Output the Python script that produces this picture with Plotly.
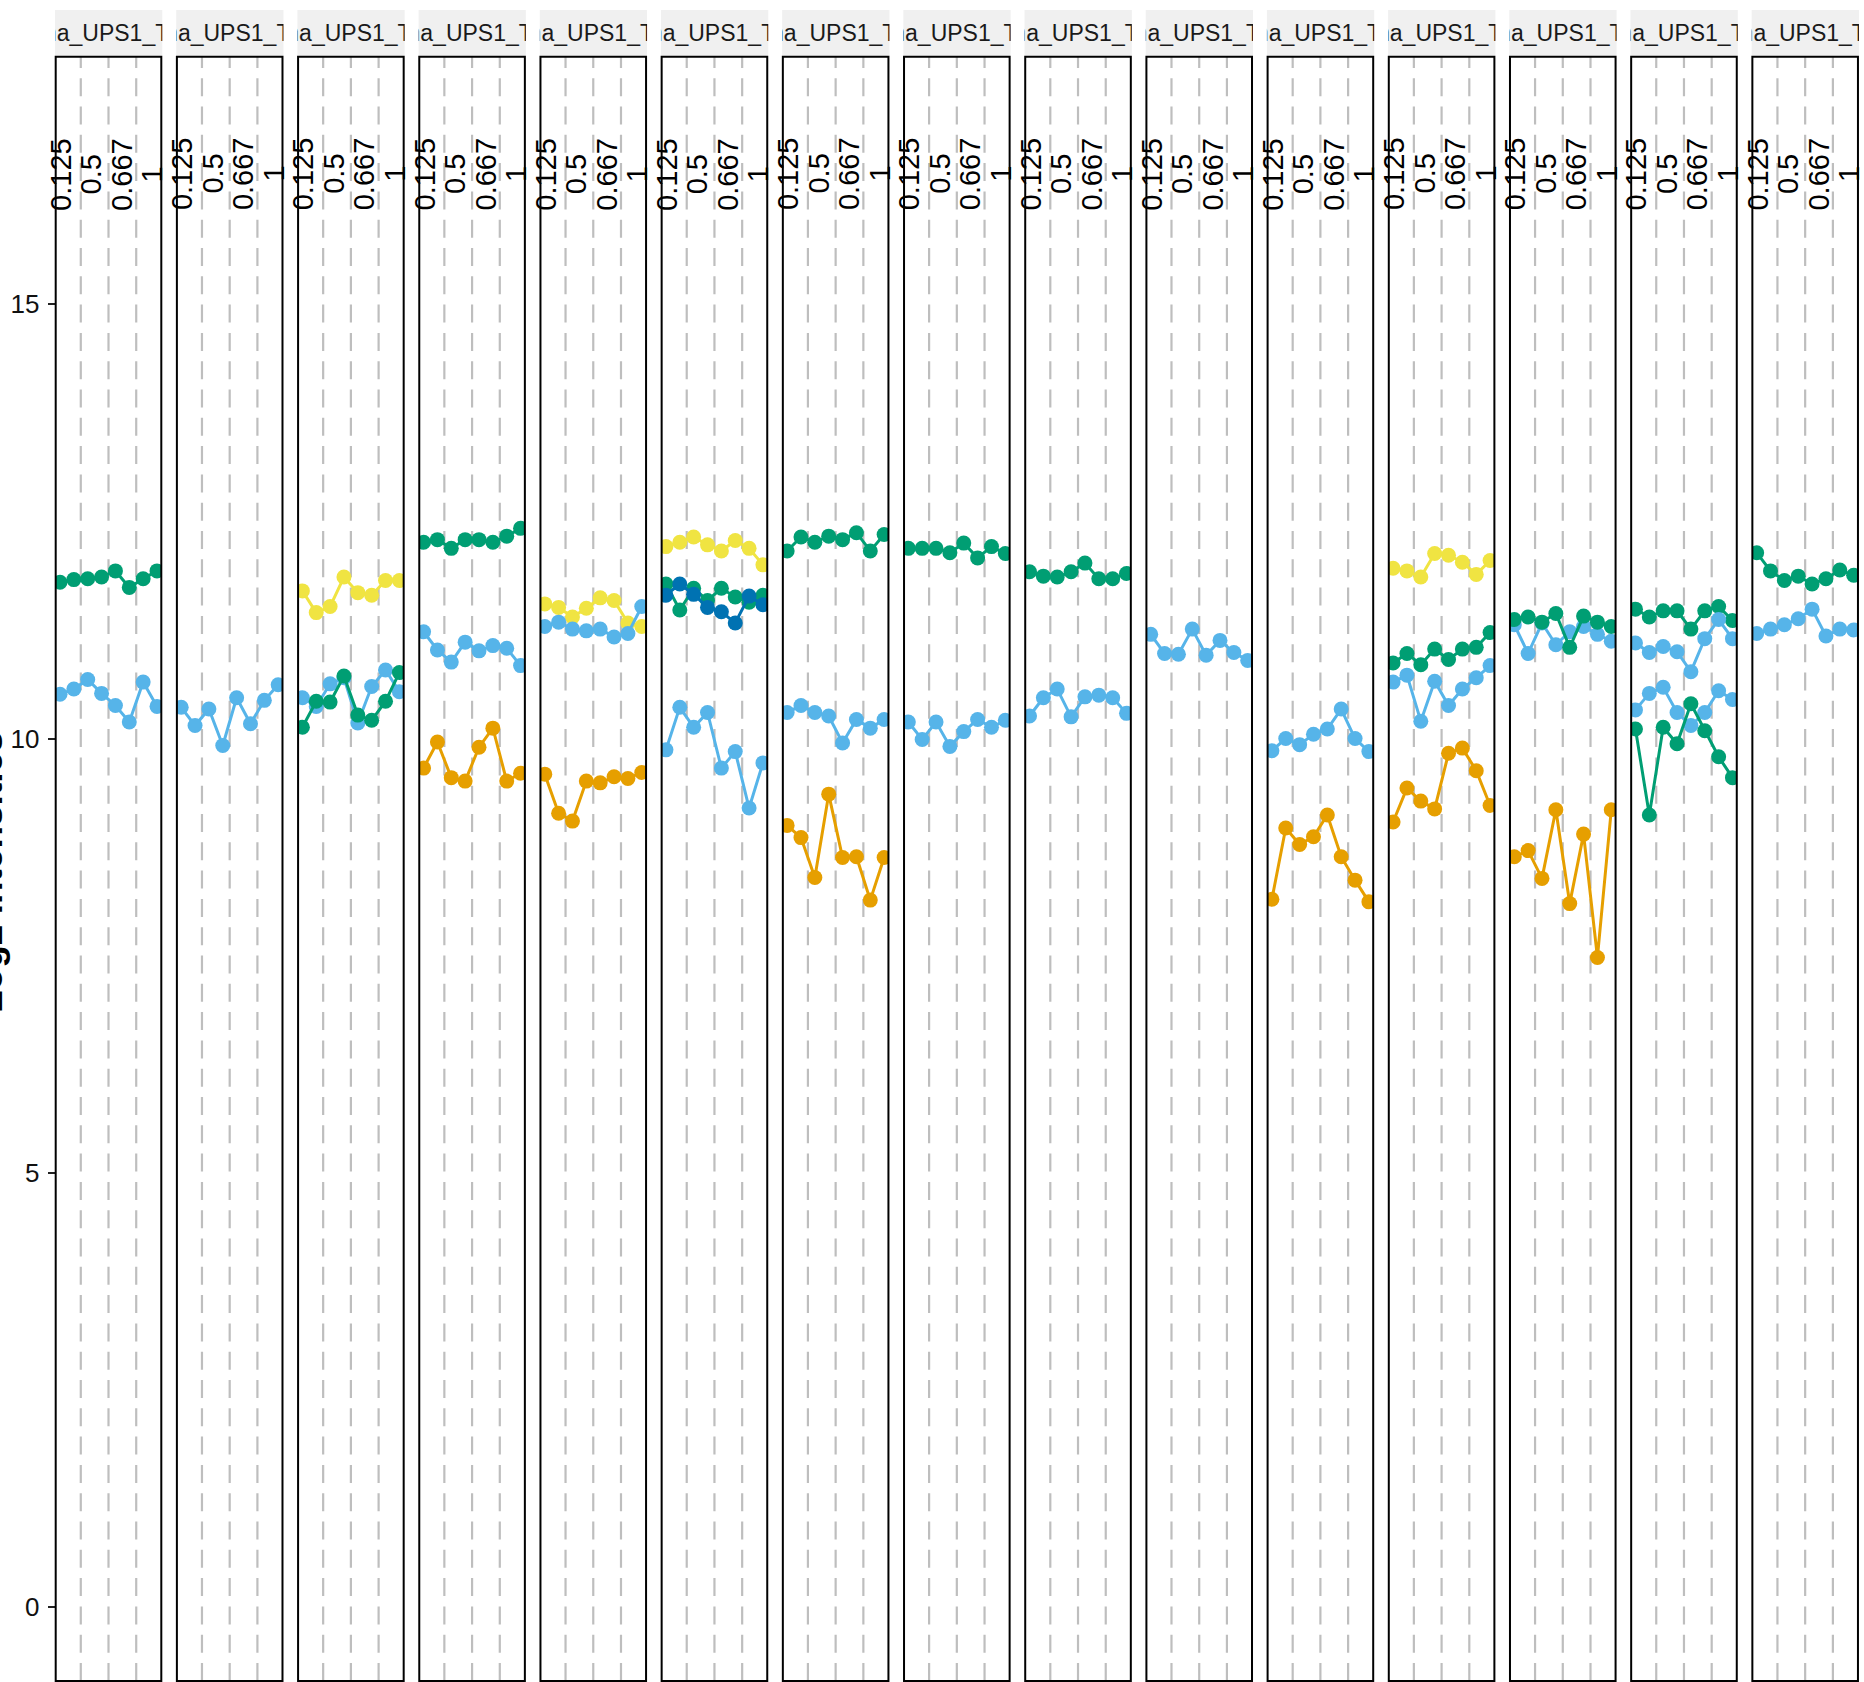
import plotly.graph_objects as go

# ---------------- data ----------------
samples = [1, 2, 3, 4, 5, 6, 7, 8]
condition_labels = ["0.125", "0.5", "0.667", "1"]
condition_label_pos = [1.07, 3.27, 5.47, 7.67]
condition_bounds = [2.5, 4.5, 6.5]
y_ticks = [0, 5, 10, 15]
strip_label = "Sigma_UPS1_Tech1"
y_title = "Log2 intensities"

GREEN = "#009E73"
SKY = "#56B4E9"
ORANGE = "#E69F00"
YELLOW = "#F0E442"
BLUE = "#0072B2"

p01_green = [11.80, 11.83, 11.84, 11.86, 11.93, 11.74, 11.84, 11.93]
p01_sky = [10.51, 10.57, 10.68, 10.52, 10.38, 10.19, 10.65, 10.37]
p02_sky = [10.36, 10.15, 10.34, 9.92, 10.47, 10.17, 10.44, 10.62]
p03_yellow = [11.70, 11.45, 11.52, 11.86, 11.68, 11.65, 11.82, 11.82]
p03_sky = [10.47, 10.37, 10.63, 10.70, 10.18, 10.60, 10.79, 10.54]
p03_green = [10.13, 10.43, 10.42, 10.72, 10.27, 10.21, 10.43, 10.76]
p04_green = [12.26, 12.29, 12.19, 12.29, 12.29, 12.26, 12.33, 12.42]
p04_sky = [11.23, 11.02, 10.88, 11.11, 11.01, 11.07, 11.04, 10.84]
p04_orange = [9.66, 9.96, 9.55, 9.51, 9.90, 10.12, 9.51, 9.60]
p05_yellow = [11.55, 11.51, 11.40, 11.50, 11.62, 11.59, 11.33, 11.29]
p05_sky = [11.29, 11.34, 11.26, 11.24, 11.26, 11.17, 11.21, 11.52]
p05_orange = [9.59, 9.14, 9.05, 9.51, 9.49, 9.56, 9.54, 9.61]
p06_yellow = [12.21, 12.26, 12.32, 12.23, 12.16, 12.28, 12.19, 12.00]
p06_green = [11.78, 11.48, 11.73, 11.59, 11.73, 11.63, 11.57, 11.65]
p06_blue = [11.65, 11.78, 11.66, 11.51, 11.46, 11.33, 11.64, 11.54]
p06_sky = [9.87, 10.36, 10.13, 10.30, 9.66, 9.85, 9.20, 9.72]
p07_green = [12.16, 12.32, 12.26, 12.33, 12.29, 12.37, 12.16, 12.35]
p07_sky = [10.30, 10.38, 10.30, 10.26, 9.95, 10.22, 10.12, 10.22]
p07_orange = [9.00, 8.86, 8.40, 9.36, 8.63, 8.64, 8.14, 8.63]
p08_green = [12.19, 12.19, 12.19, 12.14, 12.25, 12.08, 12.21, 12.13]
p08_sky = [10.19, 9.99, 10.19, 9.91, 10.08, 10.22, 10.13, 10.21]
p09_green = [11.92, 11.87, 11.86, 11.92, 12.02, 11.84, 11.84, 11.90]
p09_sky = [10.26, 10.47, 10.57, 10.25, 10.48, 10.50, 10.47, 10.29]
p10_sky = [11.20, 10.98, 10.97, 11.26, 10.96, 11.13, 10.99, 10.90]
p11_sky = [9.86, 10.00, 9.93, 10.05, 10.11, 10.34, 10.00, 9.85]
p11_orange = [8.15, 8.97, 8.78, 8.87, 9.12, 8.64, 8.37, 8.12]
p12_yellow = [11.96, 11.93, 11.86, 12.13, 12.11, 12.03, 11.89, 12.05]
p12_green = [10.87, 10.98, 10.85, 11.03, 10.91, 11.03, 11.05, 11.22]
p12_sky = [10.65, 10.73, 10.20, 10.66, 10.38, 10.57, 10.70, 10.84]
p12_orange = [9.04, 9.43, 9.28, 9.19, 9.83, 9.89, 9.63, 9.23]
p13_sky = [11.31, 10.98, 11.33, 11.08, 11.23, 11.29, 11.20, 11.12]
p13_green = [11.37, 11.40, 11.34, 11.44, 11.05, 11.41, 11.34, 11.29]
p13_orange = [8.64, 8.71, 8.39, 9.18, 8.10, 8.90, 7.48, 9.18]
p14_green_a = [11.49, 11.40, 11.47, 11.47, 11.26, 11.47, 11.52, 11.36]
p14_sky_a = [11.10, 10.99, 11.06, 11.00, 10.77, 11.15, 11.37, 11.15]
p14_sky_b = [10.33, 10.52, 10.59, 10.30, 10.15, 10.30, 10.55, 10.45]
p14_green_b = [10.11, 9.12, 10.13, 9.94, 10.40, 10.09, 9.79, 9.55]
p15_green = [12.14, 11.93, 11.82, 11.87, 11.78, 11.84, 11.94, 11.88]
p15_sky = [11.21, 11.26, 11.31, 11.38, 11.49, 11.18, 11.26, 11.25]

panels = [
    [(p01_green, GREEN), (p01_sky, SKY)],
    [(p02_sky, SKY)],
    [(p03_yellow, YELLOW), (p03_sky, SKY), (p03_green, GREEN)],
    [(p04_green, GREEN), (p04_sky, SKY), (p04_orange, ORANGE)],
    [(p05_yellow, YELLOW), (p05_sky, SKY), (p05_orange, ORANGE)],
    [(p06_yellow, YELLOW), (p06_green, GREEN), (p06_blue, BLUE), (p06_sky, SKY)],
    [(p07_green, GREEN), (p07_sky, SKY), (p07_orange, ORANGE)],
    [(p08_green, GREEN), (p08_sky, SKY)],
    [(p09_green, GREEN), (p09_sky, SKY)],
    [(p10_sky, SKY)],
    [(p11_sky, SKY), (p11_orange, ORANGE)],
    [(p12_yellow, YELLOW), (p12_green, GREEN), (p12_sky, SKY), (p12_orange, ORANGE)],
    [(p13_sky, SKY), (p13_green, GREEN), (p13_orange, ORANGE)],
    [(p14_green_a, GREEN), (p14_sky_a, SKY), (p14_sky_b, SKY), (p14_green_b, GREEN)],
    [(p15_green, GREEN), (p15_sky, SKY)],
]

# ---------------- layout geometry (pixels) ----------------
W, H = 1864, 1682
N = len(panels)
PANEL_L0 = 55.7
PANEL_PITCH = 121.19
PANEL_W = 105.6
PANEL_TOP = 56.7
PANEL_BOT = 1681.0
STRIP_TOP = 10.0
STRIP_BOT = 55.7

FONT = "Liberation Sans, Arial, Helvetica, sans-serif"


def ax_name(i, kind):
    return kind if i == 1 else f"{kind}{i}"


fig = go.Figure()
layout = {}
shapes = []
annotations = []

for k, series in enumerate(panels):
    i = k + 1
    j = k + 1 + N
    left = PANEL_L0 + PANEL_PITCH * k
    right = left + PANEL_W
    xd = [left / W, right / W]

    xa = ax_name(i, "x")
    ya = ax_name(i, "y")
    layout[ax_name(i, "xaxis")] = dict(
        domain=xd, range=[0.69, 8.31], showgrid=False, zeroline=False,
        showticklabels=False, ticks="", showline=False, anchor=ya, fixedrange=True,
    )
    yax = dict(
        domain=[1 - PANEL_BOT / H, 1 - PANEL_TOP / H], range=[-0.85, 17.85],
        showgrid=False, zeroline=False, showline=False, anchor=xa, fixedrange=True,
    )
    if i == 1:
        yax.update(
            tickmode="array", tickvals=y_ticks, ticktext=[str(v) for v in y_ticks],
            ticks="outside", ticklen=7, tickwidth=2, tickcolor="#222222",
            showticklabels=True, ticklabelstandoff=3,
            tickfont=dict(family=FONT, size=26, color="#111111"),
        )
    else:
        yax.update(showticklabels=False, ticks="")
    layout[ax_name(i, "yaxis")] = yax

    # strip axes
    sx = ax_name(j, "x")
    sy = ax_name(j, "y")
    layout[ax_name(j, "xaxis")] = dict(
        domain=[(left - 0.7) / W, (right + 1.0) / W], range=[0, 1], visible=False,
        anchor=sy, fixedrange=True,
    )
    layout[ax_name(j, "yaxis")] = dict(
        domain=[1 - STRIP_BOT / H, 1 - STRIP_TOP / H], range=[0, 1], visible=False,
        anchor=sx, fixedrange=True,
    )
    shapes.append(dict(
        type="rect", xref=f"{sx} domain", yref=f"{sy} domain", x0=0, x1=1, y0=0, y1=1,
        fillcolor="#F0F0F0", line=dict(width=0), layer="below",
    ))
    fig.add_trace(go.Scatter(
        x=[0.5166], y=[0.45], mode="text", text=[strip_label], textposition="middle center",
        textfont=dict(family=FONT, size=23, color="#1A1A1A"), cliponaxis=True,
        xaxis=sx, yaxis=sy, hoverinfo="skip", showlegend=False,
    ))

    # dashed condition separators
    for b in condition_bounds:
        shapes.append(dict(
            type="line", xref=xa, yref=f"{ya} domain", x0=b, x1=b, y0=0, y1=1,
            line=dict(color="#BEBEBE", width=2.2, dash="18px,10.3px"), layer="below",
        ))

    # data lines
    for vals, col in series:
        fig.add_trace(go.Scatter(
            x=samples, y=vals, mode="lines+markers",
            line=dict(color=col, width=3), marker=dict(color=col, size=15),
            xaxis=xa, yaxis=ya, showlegend=False, hoverinfo="skip",
        ))

    # panel border
    shapes.append(dict(
        type="rect", xref=f"{xa} domain", yref=f"{ya} domain", x0=0, x1=1, y0=0, y1=1,
        line=dict(color="black", width=2), fillcolor="rgba(0,0,0,0)", layer="above",
    ))

    # condition labels inside panel
    for pos, lab in zip(condition_label_pos, condition_labels):
        annotations.append(dict(
            x=pos, y=16.5, xref=xa, yref=ya, text=lab, showarrow=False,
            textangle=-90, xanchor="center", yanchor="middle",
            font=dict(family=FONT, size=29, color="black"),
        ))

annotations.append(dict(
    x=-10 / W, y=1 - 872 / H, xref="paper", yref="paper", text=y_title,
    showarrow=False, textangle=-90, xanchor="center", yanchor="middle",
    font=dict(family=FONT, size=37, color="black", weight="bold"),
))

fig.update_layout(
    width=W, height=H,
    margin=dict(l=0, r=0, t=0, b=0),
    paper_bgcolor="white", plot_bgcolor="white",
    showlegend=False,
    shapes=shapes, annotations=annotations,
    **layout,
)

fig.write_html(
    "out.html",
    config={"displayModeBar": False},
    post_script="document.body.style.margin='0px';document.body.style.overflow='hidden';",
)
